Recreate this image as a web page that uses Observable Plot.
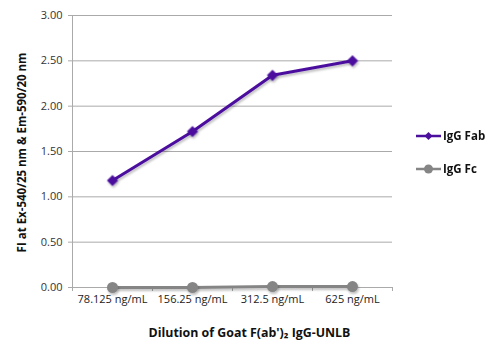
<!DOCTYPE html>
<html><head><meta charset="utf-8">
<script src="https://cdn.jsdelivr.net/npm/d3@7"></script>
<script src="https://cdn.jsdelivr.net/npm/@observablehq/plot@0.6"></script>
<style>
body{margin:0;background:#fff;font-family:"Open Sans",sans-serif;}
#wrap{position:relative;width:500px;height:351px;}
#legend{position:absolute;left:0;top:0;}
</style></head><body>
<div id="wrap"></div>
<script>
const categories = ["78.125 ng/mL","156.25 ng/mL","312.5 ng/mL","625 ng/mL"];
const fabValues = [1.18, 1.72, 2.34, 2.50];
const fcValues = [0.00, 0.00, 0.01, 0.01];
const yTicks = [0, 0.5, 1, 1.5, 2, 2.5, 3];
const seriesNames = ["IgG Fab","IgG Fc"];
const seriesColors = ["#4b0f9e","#858585"];
const yTitle = "FI at Ex-540/25 nm & Em-590/20 nm";
const xTitle = "Dilution of Goat F(ab')\u2082 IgG-UNLB";

const rows = [];
categories.forEach((c,i)=>{
  rows.push({cat:c, v:fabValues[i], s:seriesNames[0]});
  rows.push({cat:c, v:fcValues[i], s:seriesNames[1]});
});
const fab = rows.filter(d=>d.s===seriesNames[0]);
const fc = rows.filter(d=>d.s===seriesNames[1]);

const plot = Plot.plot({
  width: 500, height: 351,
  marginLeft: 72, marginRight: 108, marginTop: 15, marginBottom: 64,
  style: {fontFamily: "'Open Sans', sans-serif", fontSize: "11px", color: "#333", background: "#fff"},
  x: {type: "point", domain: categories, padding: 0.5},
  y: {domain: [0, 3]},
  marks: [
    Plot.ruleY(yTicks, {stroke: "#aaaaaa", strokeWidth: 1}),
    Plot.ruleX(categories.slice(0,1), {x: d => d, dx: -40, stroke: "#aaaaaa"}),
    Plot.axisY(yTicks, {tickSize: 4, stroke: "#aaaaaa", tickFormat: d => d.toFixed(2), tickPadding: 6, fill: "#333", fontSize: 11, label: null}),
    Plot.axisX({tickSize: 0, tickPadding: 8, fill: "#222", fontSize: 11, label: null}),
    Plot.ruleX(categories, {x: d => d, y1: 0, y2: 0, insetBottom: -4, dx: -40, stroke: "#aaaaaa"}),
    Plot.ruleX(categories.slice(-1), {x: d => d, y1: 0, y2: 0, insetBottom: -4, dx: 40, stroke: "#aaaaaa"}),
    Plot.text([xTitle], {frameAnchor: "bottom", dy: 49, dx: 17, fontWeight: "bold", fontSize: 11.5, fill: "#111", className: "xtitle"}),
    Plot.text([yTitle], {frameAnchor: "left", textAnchor: "middle", dx: -50, dy: 1, rotate: -90, fontWeight: "bold", fontSize: 11.5, fill: "#111", className: "ytitle"}),
    Plot.line(fc, {x: "cat", y: "v", stroke: seriesColors[1], strokeWidth: 3, className: "series"}),
    Plot.dot(fc, {x: "cat", y: "v", fill: seriesColors[1], r: 5.5, symbol: "circle", className: "series"}),
    Plot.line(fab, {x: "cat", y: "v", stroke: seriesColors[0], strokeWidth: 3, className: "series"}),
    Plot.dot(fab, {x: "cat", y: "v", fill: seriesColors[0], r: 5, symbol: "diamond2", className: "series"})
  ]
});
document.getElementById("wrap").appendChild(plot);

// fit title font sizes to the reference's title lengths
function fit(sel, target) {
  d3.select(plot).selectAll(sel + " text").each(function() {
    const w = this.getComputedTextLength();
    const fs = parseFloat(this.getAttribute("font-size") || getComputedStyle(this).fontSize) || 11.5;
    if (w > 0) this.setAttribute("font-size", (fs * target / w).toFixed(2));
  });
}
fit(".xtitle", 202);
fit(".ytitle", 200);

// soft drop shadow as in the reference
const defs = d3.select(plot).insert("defs", ":first-child");
const f = defs.append("filter").attr("id","shadow").attr("filterUnits","userSpaceOnUse")
  .attr("x",0).attr("y",0).attr("width",500).attr("height",351);
f.append("feDropShadow").attr("dx",1).attr("dy",2).attr("stdDeviation",1.2).attr("flood-color","#000").attr("flood-opacity",0.25);
d3.select(plot).selectAll("g.series").attr("filter","url(#shadow)");

// legend
const legend = d3.select("#wrap").append("svg").attr("id","legend").attr("width",500).attr("height",351)
  .style("font-family","'Open Sans', sans-serif");
const legY = [136, 169];
seriesNames.forEach((name,i)=>{
  const g = legend.append("g").attr("transform",`translate(0,${legY[i]})`);
  g.append("line").attr("x1",416).attr("x2",441).attr("y1",0).attr("y2",0).attr("stroke",seriesColors[i]).attr("stroke-width",2.5);
  if (i===0) {
    g.append("path").attr("d",d3.symbol(d3.symbolDiamond2, 40)()).attr("transform","translate(428.5,0)").attr("fill",seriesColors[i]);
  } else {
    g.append("circle").attr("cx",428.5).attr("cy",0).attr("r",4.5).attr("fill",seriesColors[i]);
  }
  g.append("text").attr("x",443).attr("y",0).attr("dy","0.35em").attr("font-weight","bold").attr("font-size",11.5).attr("fill","#111").text(name);
});
</script>
</body></html>
